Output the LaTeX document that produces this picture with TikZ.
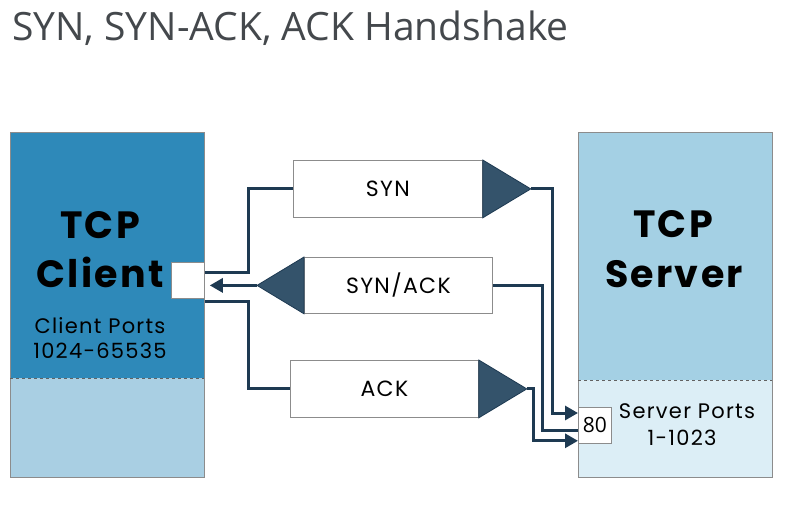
\documentclass[tikz,border=0pt]{standalone}
\usepackage{fontspec}
\usepackage{xcolor}
\usetikzlibrary{positioning, arrows.meta}
\setmainfont{Open Sans}
\newfontfamily\labelfont[LetterSpace=6]{Poppins}
\definecolor{clientblue}{RGB}{46, 137, 185}
\definecolor{clientlight}{RGB}{169, 207, 227}
\definecolor{serverblue}{RGB}{164, 208, 228}
\definecolor{serverlight}{RGB}{220, 238, 246}
\definecolor{wirenavy}{RGB}{30, 58, 82}
\definecolor{wedgeblue}{RGB}{52, 83, 107}
\definecolor{titlegray}{RGB}{68, 72, 76}
\definecolor{edgegray}{RGB}{140, 140, 140}

\tikzset{
    halfbox/.style={fill=#1, minimum width=194pt, anchor=north west, inner sep=0pt},
    msgbox/.style={draw=edgegray, fill=white, line width=0.8pt, anchor=north west, minimum height=57pt, inner sep=0pt, font=\labelfont\fontsize{22}{26}\selectfont},
    portbox/.style={draw=edgegray, fill=white, line width=0.8pt, minimum width=33pt, minimum height=36pt, anchor=north west, inner sep=0pt},
    wedge/.style={draw=wirenavy, fill=wedgeblue, line width=0.8pt},
    wire/.style={draw=wirenavy, line width=3pt},
    msgarrow/.style={-{Triangle[length=13pt,width=14pt]}},
    hostname/.style={anchor=base, font=\labelfont\bfseries\fontsize{38}{42}\selectfont},
    portrange/.style={anchor=base, font=\labelfont\fontsize{21}{25}\selectfont}
}

\begin{document}
\begin{tikzpicture}[x=1pt, y=-1pt]
    \useasboundingbox (0,0) rectangle (793,509);
    \node[anchor=base west, inner sep=0pt, text=titlegray, font=\fontsize{39}{45}\selectfont] (title) at (12,40) {SYN, SYN-ACK, ACK Handshake};

    % client side
    \node[halfbox=clientblue, minimum height=246pt] (clienttop) at (10,132) {};
    \node[halfbox=clientlight, minimum height=99pt] (clientbot) at (10,378) {};
    \draw[edgegray, line width=0.8pt] (clienttop.north west) rectangle (clientbot.south east);
    \draw[edgegray!70!black, dashed, line width=0.6pt] (clienttop.south west) -- (clienttop.south east);
    \node[hostname] (clienttcp) at (100,238) {TCP};
    \node[hostname] (clientword) at (100,287) {Client};
    \node[portrange] (clientports) at (100,333) {Client Ports};
    \node[portrange] (clientrange) at (100,358) {1024-65535};
    \node[portbox] (cport) at (171,262) {};

    % server side
    \node[halfbox=serverblue, minimum height=248pt] (servertop) at (578,132) {};
    \node[halfbox=serverlight, minimum height=97pt] (serverbot) at (578,380) {};
    \draw[edgegray, line width=0.8pt] (servertop.north west) rectangle (serverbot.south east);
    \draw[edgegray!70!black, dashed, line width=0.6pt] (servertop.south west) -- (servertop.south east);
    \node[hostname] (servertcp) at (673,237) {TCP};
    \node[hostname] (serverword) at (674,287) {Server};
    \node[portrange] (serverports) at (687,418) {Server Ports};
    \node[portrange] (serverrange) at (682,445) {1-1023};
    \node[portbox, font=\fontsize{21}{24}\selectfont] (sport) at (578,407) {80};

    % messages
    \node[msgbox, minimum width=189pt] (syn) at (293,160) {SYN};
    \coordinate (syntip) at ([xshift=48pt]syn.east);
    \draw[wedge] (syn.north east) -- (syntip) -- (syn.south east) -- cycle;

    \node[msgbox, minimum width=188pt, minimum height=56pt] (synack) at (304,257) {SYN/ACK};
    \coordinate (synacktip) at ([xshift=-47pt]synack.west);
    \draw[wedge] (synack.north west) -- (synacktip) -- (synack.south west) -- cycle;

    \node[msgbox, minimum width=188pt] (ack) at (290,360) {ACK};
    \coordinate (acktip) at ([xshift=48pt]ack.east);
    \draw[wedge] (ack.north east) -- (acktip) -- (ack.south east) -- cycle;

    % connectors
    \draw[wire] ([yshift=-10pt]cport.north east) -- ++(44,0) |- (syn.west);
    \draw[wire, msgarrow] (syntip) -- ++(22,0) |- ([yshift=-6pt]sport.north west);
    \draw[wire] (synack.east) -- ++(50,0) |- ([yshift=13pt]sport.south west);
    \draw[wire, msgarrow, shorten >=5pt] (synacktip) -- (synacktip -| cport.east);
    \draw[wire] ([yshift=-3pt]cport.south east) -- ++(44,0) |- (ack.west);
    \draw[wire, msgarrow] (acktip) -- ++(7,0) |- ([yshift=3pt]sport.south west);
\end{tikzpicture}
\end{document}
